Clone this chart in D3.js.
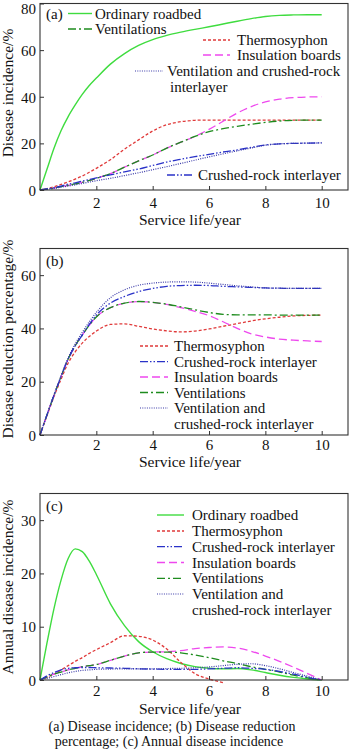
<!DOCTYPE html>
<html><head><meta charset="utf-8">
<script src="https://cdn.jsdelivr.net/npm/d3@7"></script>
<style>
html,body{margin:0;padding:0;background:#fff;}
svg{display:block;font-family:"Liberation Serif","Times New Roman",serif;}
</style></head>
<body>
<svg id="c" width="350" height="754"></svg>
<script>
// ---------- data ----------
const years = [0,0.25,0.5,0.75,1,1.25,1.5,1.75,2,2.5,3,3.5,4,4.5,5,5.5,6,6.5,7,7.5,8,8.5,9,9.5,10];
const xTicks = [2,4,6,8,10];

// (a) Disease incidence /%
const aOrdinary   = [0,9,18,25.5,31.5,36.5,41,44.8,48,54,58.5,62,64.5,66.3,67.7,68.9,70,71.2,72.4,73.5,74.4,74.9,75.1,75.2,75.2];
const aThermo     = [0,0.6,1.4,2.4,3.5,4.7,6,7.6,9.3,13,17.5,21.5,25.3,28,29.3,29.9,30,30,30,30,30,30,30,30,30];
const aVent       = [0,0.4,0.8,1.4,2,2.6,3.3,4.1,5,7,9.8,12.5,15,18,20.5,23,25,26.3,27.3,28.2,29,29.6,29.9,30,30];
const aInsulation = [0,0.4,0.8,1.4,2,2.6,3.3,4.1,5,7,9.8,12.5,15,18,20.5,23,26,29.5,33,35.8,37.8,39,39.6,39.9,40];
const aCrushed    = [0,0.5,1,1.7,2.5,3.1,3.8,4.5,5.2,6.5,7.8,9,10.5,12,13.2,14.3,15.3,16.3,17.2,18.3,19.3,19.8,20,20.1,20.2];
const aVentCrush  = [0,0.35,0.7,1.2,1.7,2.2,2.8,3.4,4,5,6.2,7.4,8.7,10,11.4,12.8,14.2,15.5,16.8,18,19.2,19.8,20,20.1,20.2];
const aYTicks = [0,20,40,60,80];

// (b) Disease reduction percentage /%
const bThermo     = [0,7.3,14.5,21,27,31.2,34.5,37,39,41.5,41.7,40.8,39.8,39.1,38.7,39,39.8,40.8,41.8,42.8,43.6,44.2,44.7,44.9,45];
const bCrushed    = [0,7.6,15,22,28.5,33.5,37.5,41.5,45,49.5,52,53.8,55,55.8,56.1,56.2,56.1,55.8,55.6,55.4,55.2,55.1,55,55,55];
const bInsulation = [0,7.6,15,22,28.5,33.5,37.5,41.2,44.3,47.8,49.5,50.1,49.8,49,47.8,46.4,44.8,42.5,40,38,36.8,36,35.6,35.3,35.1];
const bVent       = [0,7.6,15,22,28.5,33.5,37.5,41.2,44.3,47.8,49.5,50.1,49.8,49.1,48.1,47,46,45.3,45.1,45.1,45.1,45,45,45,45];
const bVentCrush  = [0,7.7,15.2,22.3,29,34.2,38.5,42.5,46,51.5,54.5,56.2,57,57.4,57.5,57.4,57,56.5,56,55.6,55.2,55.1,55,55,55];
const bYTicks = [0,20,40,60];

// (c) Annual disease incidence /%
const cOrdinary   = [0,7,13.5,18.8,22.8,24.6,24.1,22.3,19.8,14.3,10.2,7.2,5.3,4.0,3.1,2.5,2.2,2.1,2.15,1.9,1.4,0.9,0.5,0.2,0];
const cThermo     = [0,0.5,1.1,1.9,2.7,3.5,4.2,5.0,5.7,7.0,8.3,8.2,7.5,5.8,3.3,1.2,0.2,-0.5,null,null,null,null,null,null,null];
const cCrushed    = [0,0.8,1.4,1.9,2.2,2.3,2.35,2.35,2.3,2.25,2.2,2.1,2.05,2.0,2.0,2.0,2.1,2.2,2.3,2.2,2.0,1.6,1.1,0.5,0];
const cInsulation = [0,0.6,1.1,1.5,1.9,2.2,2.5,2.7,2.9,3.7,4.5,5.1,5.25,5.3,5.5,5.9,6.1,6.2,6.0,5.4,4.5,3.5,2.4,1.2,0];
const cVent       = [0,0.6,1.1,1.5,1.9,2.2,2.5,2.7,2.9,3.7,4.5,5.1,5.25,5.25,5.1,4.7,4.2,3.6,3.1,2.5,2.0,1.5,0.9,0.4,0];
const cVentCrush  = [0,0.3,0.65,1.0,1.35,1.6,1.8,1.9,2.0,2.05,2.1,2.1,2.1,2.15,2.2,2.3,2.45,2.7,2.95,3.05,2.7,2.1,1.4,0.7,0];
const cYTicks = [0,10,20,30];

const caption1 = "(a) Disease incidence; (b) Disease reduction";
const caption2 = "percentage; (c) Annual disease incidence";

// ---------- styles ----------
const styles = {
  ordinary:  {color:"#3fdc3f", dash:null,            w:1.4},
  vent:      {color:"#1e8c1e", dash:"8,3,2,3",       w:1.3},
  thermo:    {color:"#e03a3a", dash:"3,2",           w:1.3},
  insulation:{color:"#ee48ee", dash:"8,4",           w:1.3},
  crushed:   {color:"#2a32c8", dash:"8,2,1.5,2,1.5,2", w:1.3},
  ventcrush: {color:"#3a3aa8", dash:"1,1.3",         w:1.2}
};

const svg = d3.select("#c");
const FS = 15;

function panel(cfg){
  const x = d3.scaleLinear().domain([0,10]).range([40,321.7]);
  const y = d3.scaleLinear().domain([0,cfg.yMax]).range([cfg.bottom,cfg.top]);
  const g = svg.append("g");
  const line = d3.line()
    .defined(d=>d[1]!==null)
    .x(d=>x(d[0])).y(d=>y(d[1]))
    .curve(d3.curveMonotoneX);
  cfg.series.forEach(s=>{
    const st = styles[s.key];
    g.append("path")
      .datum(years.map((t,i)=>[t,s.values[i]]))
      .attr("d",line)
      .attr("fill","none")
      .attr("stroke",st.color)
      .attr("stroke-width",st.w)
      .attr("stroke-dasharray",st.dash);
  });
  g.append("rect").attr("x",40).attr("y",cfg.top).attr("width",308).attr("height",cfg.bottom-cfg.top)
    .attr("fill","none").attr("stroke","#333").attr("stroke-width",1.1);
  const xa = g.append("g").attr("transform",`translate(0,${cfg.bottom})`)
    .call(d3.axisBottom(x).tickValues(xTicks).tickSize(-4).tickFormat(d3.format("d")));
  xa.select(".domain").remove();
  xa.selectAll("line").attr("stroke","#333");
  xa.selectAll("text").attr("font-size",FS).attr("fill","#111").attr("font-family","Liberation Serif")
    .attr("y",null).attr("dy",null).attr("transform",`translate(0,${cfg.xLabBase})`);
  const ya = g.append("g").attr("transform","translate(40,0)")
    .call(d3.axisLeft(y).tickValues(cfg.yTicks).tickSize(-4).tickFormat(d3.format("d")));
  ya.select(".domain").remove();
  ya.selectAll("line").attr("stroke","#333");
  ya.selectAll("text").attr("font-size",FS).attr("fill","#111").attr("font-family","Liberation Serif")
    .attr("x",-4).attr("dy","0.35em")
    .attr("transform",d=>(d===cfg.yMaxTick ? `translate(0,${cfg.topShift||0})` : null));
  g.append("text").attr("x",190).attr("y",cfg.xTitleBase).attr("text-anchor","middle")
    .attr("font-size",15.5).attr("fill","#111").text("Service life/year");
  g.append("text").attr("transform",`translate(12.5,${cfg.yTitleC}) rotate(-90)`)
    .attr("text-anchor","middle").attr("font-size",15.5).attr("fill","#111").text(cfg.yTitle);
  g.append("text").attr("x",46).attr("y",cfg.labelBase).attr("font-size",FS).attr("fill","#111").text(cfg.label);
  cfg.legend.forEach(l=>{
    const st = styles[l.key];
    if(st){
      g.append("line").attr("x1",l.x1).attr("x2",l.x2).attr("y1",l.y).attr("y2",l.y)
        .attr("stroke",st.color).attr("stroke-width",st.w).attr("stroke-dasharray",st.dash);
    }
    g.append("text").attr("x",l.tx).attr("y",l.y+5).attr("font-size",FS).attr("fill","#111").text(l.text);
  });
}

// (a)
panel({
  top:3.5,bottom:190,yMax:80,yMaxTick:80,topShift:5,yTicks:aYTicks,xLabBase:18,xTitleBase:225,
  yTitle:"Disease incidence/%",yTitleC:93,label:"(a)",labelBase:19,
  series:[
    {key:"ordinary",values:aOrdinary},
    {key:"thermo",values:aThermo},
    {key:"insulation",values:aInsulation},
    {key:"vent",values:aVent},
    {key:"crushed",values:aCrushed},
    {key:"ventcrush",values:aVentCrush}
  ],
  legend:[
    {key:"ordinary",x1:68,x2:92,tx:95,y:13.5,text:"Ordinary roadbed"},
    {key:"vent",x1:68,x2:92,tx:95,y:29,text:"Ventilations"},
    {key:"thermo",x1:203,x2:230,tx:237,y:40,text:"Thermosyphon"},
    {key:"insulation",x1:203,x2:230,tx:237,y:55,text:"Insulation boards"},
    {key:"ventcrush",x1:135,x2:163,tx:167,y:71,text:"Ventilation and crushed-rock"},
    {key:null,tx:170,y:86.5,text:"interlayer"},
    {key:"crushed",x1:167,x2:193,tx:198,y:175,text:"Crushed-rock interlayer"}
  ]
});

// (b)
panel({
  top:248.5,bottom:435,yMax:70,yTicks:bYTicks,xLabBase:14.5,xTitleBase:467,
  yTitle:"Disease reduction percentage/%",yTitleC:339,label:"(b)",labelBase:266,
  series:[
    {key:"thermo",values:bThermo},
    {key:"insulation",values:bInsulation},
    {key:"vent",values:bVent},
    {key:"crushed",values:bCrushed},
    {key:"ventcrush",values:bVentCrush}
  ],
  legend:[
    {key:"thermo",x1:140,x2:168,tx:174,y:346,text:"Thermosyphon"},
    {key:"crushed",x1:140,x2:168,tx:174,y:361.7,text:"Crushed-rock interlayer"},
    {key:"insulation",x1:140,x2:168,tx:174,y:377,text:"Insulation boards"},
    {key:"vent",x1:140,x2:168,tx:174,y:392.5,text:"Ventilations"},
    {key:"ventcrush",x1:140,x2:168,tx:174,y:408,text:"Ventilation and"},
    {key:null,tx:174,y:423.5,text:"crushed-rock interlayer"}
  ]
});

// (c)
panel({
  top:493.5,bottom:680,yMax:35,yTicks:cYTicks,xLabBase:15.5,xTitleBase:714,
  yTitle:"Annual disease incidence/%",yTitleC:587,label:"(c)",labelBase:511,
  series:[
    {key:"ordinary",values:cOrdinary},
    {key:"thermo",values:cThermo},
    {key:"insulation",values:cInsulation},
    {key:"vent",values:cVent},
    {key:"crushed",values:cCrushed},
    {key:"ventcrush",values:cVentCrush}
  ],
  legend:[
    {key:"ordinary",x1:157,x2:184,tx:192,y:515,text:"Ordinary roadbed"},
    {key:"thermo",x1:157,x2:184,tx:192,y:531,text:"Thermosyphon"},
    {key:"crushed",x1:157,x2:184,tx:192,y:546.7,text:"Crushed-rock interlayer"},
    {key:"insulation",x1:157,x2:184,tx:192,y:562.5,text:"Insulation boards"},
    {key:"vent",x1:157,x2:184,tx:192,y:578.3,text:"Ventilations"},
    {key:"ventcrush",x1:157,x2:184,tx:192,y:594,text:"Ventilation and"},
    {key:null,tx:192,y:609.5,text:"crushed-rock interlayer"}
  ]
});

// caption
svg.append("text").attr("x",172).attr("y",731).attr("text-anchor","middle").attr("font-size",14).attr("fill","#111").text(caption1);
svg.append("text").attr("x",169).attr("y",746).attr("text-anchor","middle").attr("font-size",14).attr("fill","#111").text(caption2);
</script>
</body></html>
